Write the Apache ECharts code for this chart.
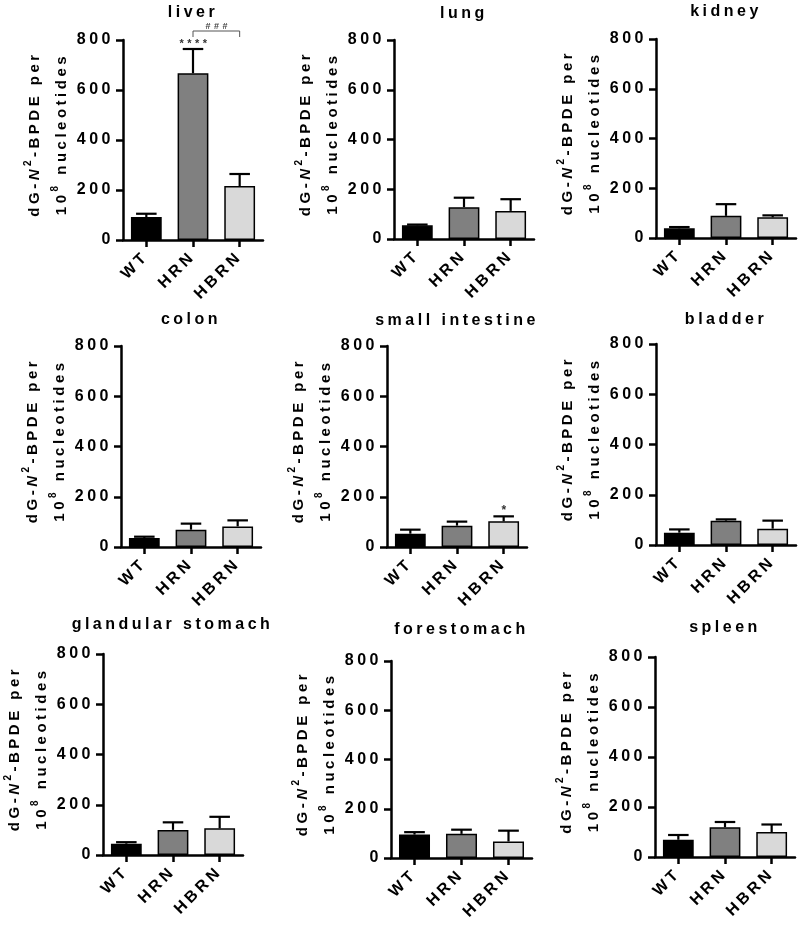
<!DOCTYPE html>
<html><head><meta charset="utf-8">
<script src="https://cdn.jsdelivr.net/npm/echarts@6/dist/echarts.min.js"></script>
<style>html,body{margin:0;padding:0;background:#fff}#c{width:798px;height:925px}</style>
</head><body><div id="c"></div>
<script>
// ---------- data ----------
const categories = ['WT', 'HRN', 'HBRN'];
const tissues = ['liver', 'lung', 'kidney', 'colon', 'small intestine', 'bladder', 'glandular stomach', 'forestomach', 'spleen'];
const yTickValues = [0, 200, 400, 600, 800];

const liverMean = [92, 667, 216];       const liverSem = [13, 97, 48];
const lungMean = [55, 128, 113];        const lungSem = [3, 38, 47];
const kidneyMean = [39, 89, 83];        const kidneySem = [5, 47, 8];
const colonMean = [36, 69, 82];         const colonSem = [5, 24, 24];
const intestineMean = [53, 85, 102];    const intestineSem = [16, 16, 20];
const bladderMean = [49, 97, 65];       const bladderSem = [13, 5, 32];
const glandularMean = [45, 100, 106];   const glandularSem = [6, 30, 46];
const forestomachMean = [95, 98, 67];   const forestomachSem = [10, 17, 44];
const spleenMean = [69, 119, 100];      const spleenSem = [19, 21, 30];

// significance marks: [category, value, text]
const liverStars = ['HRN', 784, '****'];
const intestineStar = ['HBRN', 143, '*'];
// bracket: [fromCategory, toCategory, value, text]
const liverBracket = ['HRN', 'HBRN', 836, '###'];

// ---------- styling / layout ----------
const means = [liverMean, lungMean, kidneyMean, colonMean, intestineMean, bladderMean, glandularMean, forestomachMean, spleenMean];
const sems = [liverSem, lungSem, kidneySem, colonSem, intestineSem, bladderSem, glandularSem, forestomachSem, spleenSem];
const marks = {0: [liverStars], 4: [intestineStar]};
const brackets = {0: [liverBracket]};
// [left, top, height, width, titleTop]
const layout = [
  [123, 40, 200, 140, 4.5], [394, 40, 199, 140, 5.3], [656, 39, 199, 140, 4],
  [121, 346, 201, 140, 311.3], [387, 346, 201, 140, 313], [656, 344, 201, 140, 311.3],
  [102, 654, 201, 141, 616.5], [391, 661, 197, 141, 621.3], [655, 657, 200, 140, 619.7]
];
const barColors = ['#000000', '#808080', '#d9d9d9'];
const FONT = "'Liberation Sans', Arial, sans-serif";

// letter spacing like the original figure
const SP = 3.5;
(function () {
  const proto = CanvasRenderingContext2D.prototype;
  const orig = proto.fillText;
  proto.fillText = function () { this.letterSpacing = SP + 'px'; return orig.apply(this, arguments); };
})();

// rich tokens are centre-placed, so spacing room is split on both sides
function padFor(n, bottom) { return [0, n * SP / 2, bottom || 0, n * SP / 2]; }
const yName = '{a|dG-}{i|N}{s|2}{b|-BPDE per}\n{c|10}{s|8}{d| nucleotides}';
const base = {fontFamily: FONT, fontWeight: 'bold', fontSize: 15, color: '#000'};
const nameRich = {
  a: Object.assign({}, base, {padding: padFor(3)}),
  i: Object.assign({}, base, {fontStyle: 'italic', padding: padFor(1)}),
  s: Object.assign({}, base, {fontSize: 10, padding: padFor(1, 12)}),
  b: Object.assign({}, base, {padding: padFor(9)}),
  c: Object.assign({}, base, {padding: padFor(2)}),
  d: Object.assign({}, base, {padding: padFor(12)})
};

const grid = [], xAxis = [], yAxis = [], series = [], title = [];
tissues.forEach((name, k) => {
  const [left, top, height, width, tTop] = layout[k];
  grid.push({left, top, width, height, containLabel: false});
  title.push({
    text: name, left: left + width / 2, top: tTop, textAlign: 'center', padding: 0,
    textStyle: {fontFamily: FONT, fontWeight: 'bold', fontSize: 16, color: '#000'}
  });
  xAxis.push({
    type: 'category', gridIndex: k, data: categories, boundaryGap: true,
    axisLine: {lineStyle: {color: '#000', width: 2.5}},
    axisTick: {show: true, alignWithLabel: true, length: 7, lineStyle: {color: '#000', width: 2.5}},
    axisLabel: {interval: 0, rotate: 45, margin: 14, verticalAlign: 'middle', padding: [10, 0, 0, 0],
      fontFamily: FONT, fontWeight: 'bold', fontSize: 16, color: '#000'},
    splitLine: {show: false}
  });
  yAxis.push({
    type: 'value', gridIndex: k, min: yTickValues[0], max: yTickValues[yTickValues.length - 1],
    interval: yTickValues[1] - yTickValues[0],
    axisLine: {show: true, lineStyle: {color: '#000', width: 2.5}},
    axisTick: {show: true, length: 7, lineStyle: {color: '#000', width: 2.5}},
    axisLabel: {margin: 9, fontFamily: FONT, fontWeight: 'bold', fontSize: 16, color: '#000'},
    splitLine: {show: false},
    name: yName, nameLocation: 'middle', nameRotate: 90, nameGap: 48,
    nameTextStyle: {rich: nameRich, lineHeight: 27, padding: [0, 0, 0, 12],
      fontFamily: FONT, fontWeight: 'bold', fontSize: 15, color: '#000'}
  });
  series.push({
    type: 'bar', xAxisIndex: k, yAxisIndex: k, barWidth: '66%',
    data: means[k].map((v, i) => ({value: v, itemStyle: {color: barColors[i]}})),
    itemStyle: {borderColor: '#000', borderWidth: 1.5},
    emphasis: {disabled: true}, silent: true
  });
  series.push({
    type: 'custom', xAxisIndex: k, yAxisIndex: k, silent: true,
    data: means[k].map((m, i) => [i, m, sems[k][i]]),
    encode: {x: 0, y: 1},
    renderItem: function (params, api) {
      const i = api.value(0), m = api.value(1), e = api.value(2);
      const p0 = api.coord([i, m]), p1 = api.coord([i, m + e]);
      const w = api.size([1, 0])[0] * 0.44;
      return {type: 'group', children: [
        {type: 'line', shape: {x1: p0[0], y1: p0[1], x2: p1[0], y2: p1[1]}, style: {stroke: '#000', lineWidth: 2.2}},
        {type: 'line', shape: {x1: p1[0] - w / 2, y1: p1[1], x2: p1[0] + w / 2, y2: p1[1]}, style: {stroke: '#000', lineWidth: 2.2}}
      ]};
    }
  });
  (marks[k] || []).forEach(mk => {
    series.push({
      type: 'custom', xAxisIndex: k, yAxisIndex: k, silent: true, clip: false,
      data: [[categories.indexOf(mk[0]), mk[1]]], encode: {x: 0, y: 1},
      renderItem: function (params, api) {
        const p = api.coord([api.value(0), api.value(1)]);
        return {type: 'text', x: p[0] + 2, y: p[1],
          style: {text: mk[2], align: 'center', verticalAlign: 'middle', fontFamily: FONT, fontSize: mk[2] === '*' ? 12 : 11, fontWeight: 'bold', fill: '#333'}};
      }
    });
  });
  (brackets[k] || []).forEach(br => {
    series.push({
      type: 'custom', xAxisIndex: k, yAxisIndex: k, silent: true, clip: false,
      data: [[categories.indexOf(br[0]), categories.indexOf(br[1]), br[2]]], encode: {x: 0, y: 2},
      renderItem: function (params, api) {
        const a = api.coord([api.value(0), api.value(2)]);
        const b = api.coord([api.value(1), api.value(2)]);
        const drop = 6;
        return {type: 'group', children: [
          {type: 'polyline', shape: {points: [[a[0], a[1] + drop], [a[0], a[1]], [b[0], b[1]], [b[0], b[1] + drop]]},
            style: {stroke: '#555', lineWidth: 1, fill: null}},
          {type: 'text', x: (a[0] + b[0]) / 2 + 2, y: a[1] - 4,
            style: {text: br[3], align: 'center', verticalAlign: 'middle', fontFamily: FONT, fontSize: 9, fontWeight: 'bold', fill: '#444'}}
        ]};
      }
    });
  });
});

const chart = echarts.init(document.getElementById('c'), null, {renderer: 'canvas'});
chart.setOption({animation: false, backgroundColor: '#fff', title, grid, xAxis, yAxis, series});
</script>
</body></html>
